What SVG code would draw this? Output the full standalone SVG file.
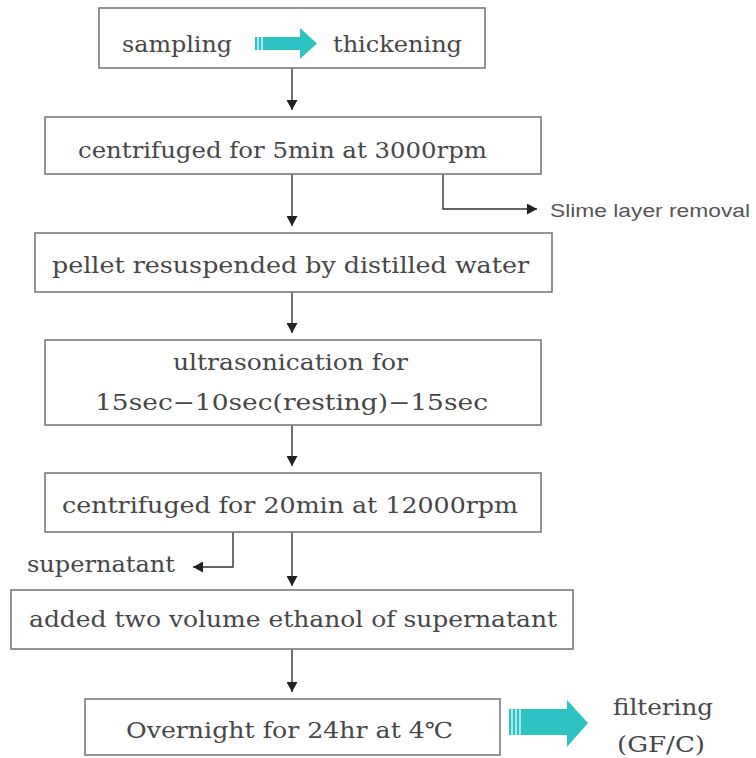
<svg xmlns="http://www.w3.org/2000/svg" width="756" height="758" viewBox="0 0 756 758">
<style>
  .box { fill: #ffffff; stroke: #7a7a7a; stroke-width: 1.6; }
  .t { font-family: "DejaVu Serif", "Liberation Serif", "Noto Sans CJK KR", serif; font-size: 22px; fill: #474747; }
  .s { font-family: "Liberation Sans", "DejaVu Sans", sans-serif; font-size: 18px; fill: #555555; }
  .c { fill: none; stroke: #333333; stroke-width: 1.4; }
  .teal { fill: #2fc2c2; }
  .stripe { stroke: #ffffff; stroke-width: 1.2; }
</style>
<defs>
  <marker id="ah" markerUnits="userSpaceOnUse" markerWidth="13" markerHeight="11" refX="10" refY="5.5" orient="auto">
    <path d="M0,0 L10,5.5 L0,11 Z" fill="#222222"/>
  </marker>
</defs>
<rect width="756" height="758" fill="#ffffff"/>

<g id="connectors">
  <line class="c" x1="292" y1="68" x2="292" y2="110" marker-end="url(#ah)"/>
  <line class="c" x1="292" y1="174" x2="292" y2="226" marker-end="url(#ah)"/>
  <polyline class="c" points="443,174 443,209 537,209" marker-end="url(#ah)"/>
  <line class="c" x1="292" y1="292" x2="292" y2="333" marker-end="url(#ah)"/>
  <line class="c" x1="292" y1="425" x2="292" y2="466" marker-end="url(#ah)"/>
  <line class="c" x1="292" y1="532" x2="292" y2="586" marker-end="url(#ah)"/>
  <polyline class="c" points="233,532 233,567 193,567" marker-end="url(#ah)"/>
  <line class="c" x1="292" y1="649" x2="292" y2="692" marker-end="url(#ah)"/>
</g>

<g id="node-sampling">
  <rect class="box" x="99" y="8" width="386" height="60"/>
  <text class="t" x="122" y="52" textLength="110" lengthAdjust="spacingAndGlyphs">sampling</text>
  <g id="teal-arrow-top">
    <rect class="teal" x="255" y="37" width="46" height="13"/>
    <polygon class="teal" points="300,28 317,43.5 300,59"/>
    <line class="stripe" x1="258" y1="37" x2="258" y2="50"/>
    <line class="stripe" x1="262" y1="37" x2="262" y2="50"/>
  </g>
  <text class="t" x="333" y="52" textLength="129" lengthAdjust="spacingAndGlyphs">thickening</text>
</g>

<g id="node-centrifuge1">
  <rect class="box" x="45" y="117" width="496" height="57"/>
  <text class="t" x="78" y="158" textLength="409" lengthAdjust="spacingAndGlyphs">centrifuged for 5min at 3000rpm</text>
</g>

<g id="label-slime">
  <text class="s" x="550" y="217" textLength="200" lengthAdjust="spacingAndGlyphs">Slime layer removal</text>
</g>

<g id="node-pellet">
  <rect class="box" x="35" y="233" width="517" height="59"/>
  <text class="t" x="52" y="273" textLength="477" lengthAdjust="spacingAndGlyphs">pellet resuspended by distilled water</text>
</g>

<g id="node-ultrasonication">
  <rect class="box" x="45" y="340" width="496" height="85"/>
  <text class="t" x="173" y="370" textLength="235" lengthAdjust="spacingAndGlyphs">ultrasonication for</text>
  <text class="t" x="95" y="410" textLength="393" lengthAdjust="spacingAndGlyphs">15sec−10sec(resting)−15sec</text>
</g>

<g id="node-centrifuge2">
  <rect class="box" x="45" y="473" width="496" height="59"/>
  <text class="t" x="62" y="513" textLength="456" lengthAdjust="spacingAndGlyphs">centrifuged for 20min at 12000rpm</text>
</g>

<g id="label-supernatant">
  <text class="t" x="27" y="572" textLength="148" lengthAdjust="spacingAndGlyphs">supernatant</text>
</g>

<g id="node-ethanol">
  <rect class="box" x="11" y="590" width="562" height="59"/>
  <text class="t" x="29" y="627" textLength="528" lengthAdjust="spacingAndGlyphs">added two volume ethanol of supernatant</text>
</g>

<g id="node-overnight">
  <rect class="box" x="85" y="699" width="415" height="56"/>
  <text class="t" x="126" y="738" textLength="327" lengthAdjust="spacingAndGlyphs">Overnight for 24hr at 4℃</text>
</g>

<g id="teal-arrow-bottom">
  <rect class="teal" x="509" y="709" width="59" height="26"/>
  <polygon class="teal" points="567,700 588,723 567,747"/>
  <line class="stripe" x1="512" y1="709" x2="512" y2="735"/>
  <line class="stripe" x1="516" y1="709" x2="516" y2="735"/>
  <line class="stripe" x1="520" y1="709" x2="520" y2="735"/>
</g>

<g id="label-filtering">
  <text class="t" x="613" y="715" textLength="100" lengthAdjust="spacingAndGlyphs">filtering</text>
  <text class="t" x="617" y="752" textLength="88" lengthAdjust="spacingAndGlyphs">(GF/C)</text>
</g>
</svg>
